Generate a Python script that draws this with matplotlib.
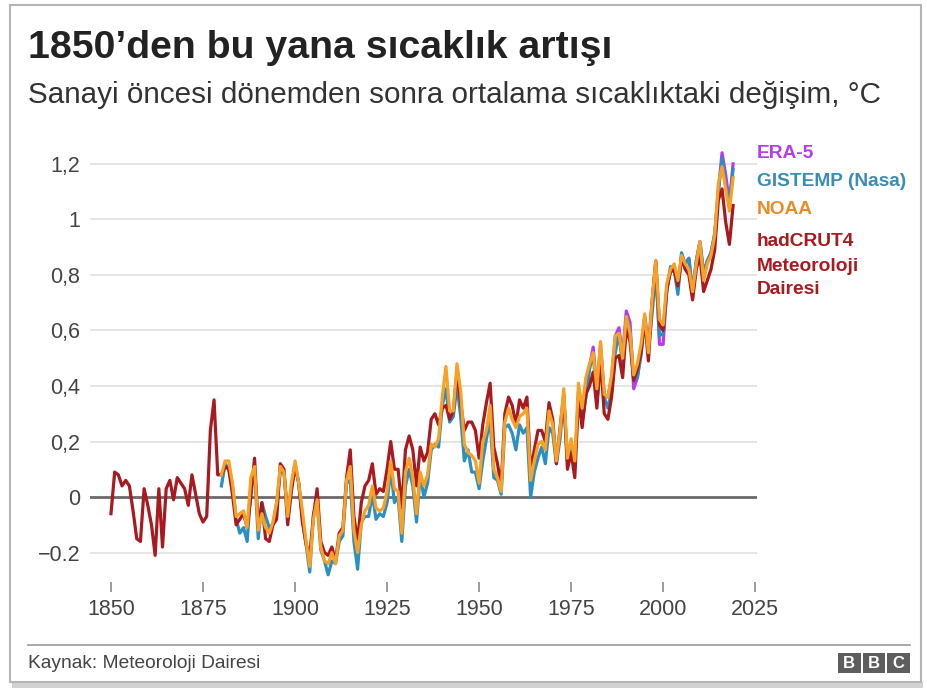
import matplotlib.pyplot as plt
from matplotlib.patches import Rectangle
from matplotlib.lines import Line2D

plt.rcParams['font.family'] = ['Liberation Sans', 'DejaVu Sans']

# Temperature change vs pre-industrial, °C
had_years = list(range(1850, 2020))
hadcrut4 = [
    -0.06, 0.09, 0.08, 0.04, 0.06, 0.04, -0.05, -0.15, -0.16, 0.03,
    -0.03, -0.10, -0.21, 0.03, -0.18, 0.03, 0.06, -0.01, 0.07, 0.05,
    0.03, -0.03, 0.08, 0.01, -0.06, -0.09, -0.07, 0.24, 0.35, 0.08,
    0.08, 0.11, 0.10, 0.01, -0.10, -0.08, -0.06, -0.11, 0.00, 0.14,
    -0.11, -0.02, -0.15, -0.16, -0.10, -0.08, 0.12, 0.10, -0.10, 0.02,
    0.11, 0.05, -0.09, -0.17, -0.21, -0.07, 0.03, -0.16, -0.20, -0.21,
    -0.18, -0.23, -0.13, -0.11, 0.07, 0.17, -0.07, -0.16, -0.02, 0.04,
    0.06, 0.12, 0.01, 0.03, 0.02, 0.10, 0.20, 0.10, 0.10, -0.04,
    0.17, 0.22, 0.17, 0.04, 0.18, 0.13, 0.16, 0.28, 0.30, 0.26,
    0.32, 0.33, 0.28, 0.31, 0.45, 0.34, 0.24, 0.27, 0.27, 0.24,
    0.14, 0.26, 0.34, 0.41, 0.18, 0.12, 0.04, 0.30, 0.36, 0.33,
    0.26, 0.35, 0.32, 0.36, 0.09, 0.17, 0.24, 0.24, 0.20, 0.34,
    0.28, 0.12, 0.25, 0.37, 0.10, 0.16, 0.07, 0.36, 0.25, 0.37,
    0.40, 0.45, 0.32, 0.50, 0.30, 0.28, 0.36, 0.50, 0.51, 0.43,
    0.61, 0.56, 0.42, 0.46, 0.52, 0.64, 0.49, 0.70, 0.85, 0.62,
    0.60, 0.75, 0.81, 0.82, 0.76, 0.86, 0.82, 0.80, 0.71, 0.82,
    0.87, 0.74, 0.78, 0.82, 0.89, 1.07, 1.11, 0.99, 0.91, 1.05,
]

nasa_years = list(range(1880, 2020))
gistemp = [
    0.04, 0.12, 0.10, 0.04, -0.08, -0.13, -0.11, -0.16, 0.03, 0.10,
    -0.15, -0.02, -0.07, -0.11, -0.10, -0.02, 0.09, 0.09, -0.06, 0.03,
    0.12, 0.05, -0.08, -0.17, -0.27, -0.06, -0.02, -0.19, -0.23, -0.28,
    -0.23, -0.24, -0.16, -0.14, 0.05, 0.06, -0.16, -0.26, -0.09, -0.07,
    -0.07, 0.01, -0.08, -0.06, -0.07, -0.02, 0.10, -0.02, 0.00, -0.16,
    0.04, 0.10, 0.04, -0.09, 0.08, 0.00, 0.05, 0.17, 0.19, 0.18,
    0.33, 0.39, 0.27, 0.29, 0.40, 0.29, 0.13, 0.17, 0.09, 0.09,
    0.03, 0.13, 0.21, 0.28, 0.07, 0.06, 0.01, 0.25, 0.26, 0.23,
    0.17, 0.26, 0.23, 0.25, 0.00, 0.09, 0.14, 0.18, 0.12, 0.25,
    0.23, 0.12, 0.21, 0.36, 0.13, 0.19, 0.10, 0.38, 0.27, 0.36,
    0.46, 0.52, 0.34, 0.51, 0.36, 0.32, 0.38, 0.52, 0.59, 0.47,
    0.65, 0.60, 0.42, 0.43, 0.51, 0.65, 0.53, 0.66, 0.81, 0.58,
    0.59, 0.74, 0.83, 0.82, 0.73, 0.88, 0.84, 0.86, 0.74, 0.85,
    0.92, 0.81, 0.85, 0.88, 0.95, 1.10, 1.22, 1.12, 1.05, 1.18,
]

noaa = [
    0.08, 0.13, 0.13, 0.05, -0.07, -0.06, -0.05, -0.11, 0.07, 0.11,
    -0.12, -0.06, -0.11, -0.13, -0.09, -0.02, 0.11, 0.09, -0.07, 0.05,
    0.13, 0.05, -0.05, -0.16, -0.25, -0.08, -0.01, -0.18, -0.23, -0.24,
    -0.20, -0.24, -0.14, -0.12, 0.06, 0.11, -0.12, -0.20, -0.10, -0.05,
    -0.03, 0.04, -0.04, -0.05, -0.04, 0.02, 0.13, 0.03, 0.02, -0.13,
    0.09, 0.14, 0.07, -0.06, 0.09, 0.04, 0.08, 0.19, 0.18, 0.21,
    0.36, 0.47, 0.31, 0.31, 0.48, 0.38, 0.19, 0.16, 0.15, 0.13,
    0.05, 0.20, 0.24, 0.33, 0.10, 0.07, 0.02, 0.27, 0.32, 0.28,
    0.25, 0.29, 0.30, 0.32, 0.06, 0.13, 0.19, 0.20, 0.17, 0.31,
    0.26, 0.13, 0.24, 0.39, 0.14, 0.21, 0.13, 0.41, 0.32, 0.43,
    0.48, 0.52, 0.39, 0.56, 0.37, 0.36, 0.44, 0.58, 0.59, 0.50,
    0.65, 0.59, 0.44, 0.48, 0.55, 0.66, 0.52, 0.71, 0.85, 0.64,
    0.62, 0.77, 0.82, 0.84, 0.78, 0.87, 0.84, 0.82, 0.74, 0.84,
    0.92, 0.78, 0.84, 0.87, 0.94, 1.13, 1.19, 1.11, 1.03, 1.15,
]

era_years = list(range(1979, 2020))
era5 = [
    0.36, 0.47, 0.54, 0.38, 0.55, 0.37, 0.36, 0.43, 0.58, 0.61,
    0.51, 0.67, 0.63, 0.39, 0.43, 0.53, 0.65, 0.55, 0.70, 0.85,
    0.55, 0.55, 0.75, 0.82, 0.82, 0.75, 0.87, 0.84, 0.86, 0.73,
    0.85, 0.92, 0.80, 0.85, 0.88, 0.94, 1.10, 1.24, 1.16, 1.06,
    1.20,
]

x_ticks = [1850, 1875, 1900, 1925, 1950, 1975, 2000, 2025]
y_ticks = [-0.2, 0, 0.2, 0.4, 0.6, 0.8, 1.0, 1.2]
y_labels = ['\u22120.2', '0', '0,2', '0,4', '0,6', '0,8', '1', '1,2']

c_era = '#b53df0'
c_nasa = '#2b8fbf'
c_noaa = '#f7a126'
c_had = '#a81a1f'

W, H = 927, 690
fig = plt.figure(figsize=(W / 100, H / 100), dpi=100)
ax = fig.add_axes([90 / W, 1 - 582 / H, 667 / W, 442 / H])

lw = 2.3
ax.plot(era_years, era5, color=c_era, lw=lw, zorder=3)
ax.plot(nasa_years, gistemp, color=c_nasa, lw=lw, zorder=4)
ax.plot(had_years, hadcrut4, color=c_had, lw=lw, zorder=5)
ax.plot(nasa_years, noaa, color=c_noaa, lw=lw, zorder=6)

ax.set_xlim(1844.3, 2025.5)
ax.set_ylim(-0.306, 1.286)

for v in y_ticks:
    if v != 0:
        ax.axhline(v, color='#e3e3e3', lw=1.3, zorder=1)
ax.axhline(0, color='#6a6a6a', lw=2, zorder=2)

for s in ax.spines.values():
    s.set_visible(False)

ax.set_yticks(y_ticks)
ax.set_yticklabels(y_labels)
ax.tick_params(axis='y', length=0, pad=7, labelsize=15.5, labelcolor='#444444')
ax.set_xticks(x_ticks)
ax.tick_params(axis='x', length=7.5, width=1.2, color='#8a8a8a', pad=5,
               labelsize=15.5, labelcolor='#444444')

# series labels on the right
lab = dict(fontsize=13.8, fontweight='bold', va='center')
fig.text(757 / W, 1 - 153 / H, 'ERA-5', color=c_era, **lab)
fig.text(757 / W, 1 - 182 / H, 'GISTEMP (Nasa)', color='#3a8db5', **lab)
fig.text(757 / W, 1 - 210 / H, 'NOAA', color='#e88c25', **lab)
for txt, yy in zip(['hadCRUT4', 'Meteoroloji', 'Dairesi'], [241, 266, 290]):
    fig.text(757 / W, 1 - yy / H, txt, color=c_had, **lab)

# titles
fig.text(28 / W, 1 - 48 / H, '1850\u2019den bu yana s\u0131cakl\u0131k art\u0131\u015f\u0131',
         fontsize=28.3, fontweight='bold', color='#222222', va='center')
fig.text(28 / W, 1 - 95 / H,
         'Sanayi \u00f6ncesi d\u00f6nemden sonra ortalama s\u0131cakl\u0131ktaki de\u011fi\u015fim, \u00b0C',
         fontsize=21.3, color='#333333', va='center')

# footer
fig.add_artist(Line2D([28 / W, 910 / W], [1 - 645 / H, 1 - 645 / H],
                      color='#9a9a9a', lw=1.2, transform=fig.transFigure))
fig.text(28 / W, 1 - 663 / H, 'Kaynak: Meteoroloji Dairesi', fontsize=13.8,
         color='#444444', va='center')
for i, ch in enumerate('BBC'):
    x0 = 838 + i * 24.5
    fig.add_artist(Rectangle((x0 / W, 1 - 673 / H), 22.5 / W, 20 / H,
                             facecolor='#5e5e5e', edgecolor='none',
                             transform=fig.transFigure))
    fig.text((x0 + 11.25) / W, 1 - 663 / H, ch, color='white', fontsize=12,
             fontweight='bold', ha='center', va='center')

# card frame and shadow
fig.add_artist(Rectangle((12 / W, 1 - 688 / H), 911 / W, 6 / H,
                         facecolor='#d2d2d2', edgecolor='none',
                         transform=fig.transFigure, zorder=-2))
fig.add_artist(Rectangle((10 / W, 1 - 682 / H), 911 / W, 677 / H,
                         facecolor='white', edgecolor='#b5b5b5', lw=1.5,
                         transform=fig.transFigure, zorder=-1))

fig.savefig('out.png', dpi=100)
